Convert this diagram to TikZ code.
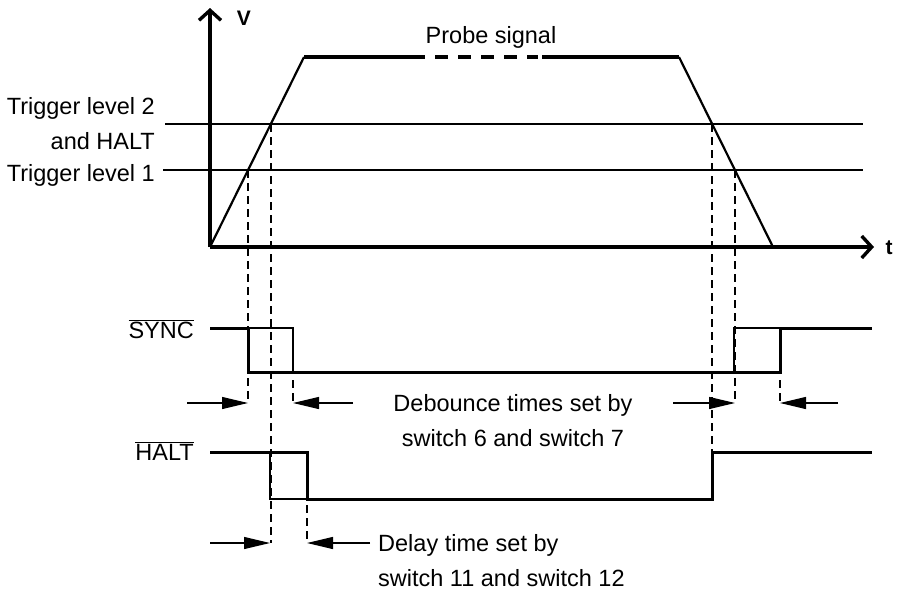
\documentclass[tikz,border=0pt]{standalone}
\usepackage{fontspec}
\setmainfont{Liberation Sans}
\usetikzlibrary{arrows.meta}

\begin{document}
\begin{tikzpicture}[x=1pt,y=-1pt,
	thinline/.style={line width=1.2pt},
	sig/.style={line width=3pt,line join=miter},
	ramp/.style={line width=2.2pt},
	guide/.style={line width=1.2pt,dash pattern=on 8pt off 5pt},
	span/.style={line width=1.2pt,-{Triangle[length=26pt,width=12pt]}},
	axis/.style={line width=3.2pt,-{Straight Barb[length=10pt,width=22pt,line width=3.4pt]}},
	lbl/.style={inner sep=0pt,font=\fontsize{23.5}{35}\selectfont},
	axlbl/.style={inner sep=0pt,font=\fontsize{21}{24}\selectfont\bfseries}]
\useasboundingbox (0,0) rectangle (903,592);
% axes
\coordinate (o) at (210,247);
\draw[axis] (o) -- (210,8);
\draw[axis] (o) -- (874,247);
\node[axlbl] (v) at (244,18) {V};
\node[axlbl] (t) at (889,248) {t};
% trigger levels
\draw[thinline] (165,124) -- (863,124);
\draw[thinline] (163,170) -- (863,170);
\node[lbl,anchor=east,align=right] (lvl2) at (155,124) {Trigger level 2\\and HALT};
\node[lbl,anchor=base east] (lvl1) at (155,181) {Trigger level 1};
% probe signal
\coordinate (risetop) at (304,57);
\coordinate (falltop) at (679,57);
\coordinate (fallend) at (773,247);
\draw[ramp] (o) -- (risetop);
\draw[ramp] (falltop) -- (fallend);
\draw[line width=3.3pt] (risetop) -- (425,57);
\draw[line width=3.3pt,dash pattern=on 13pt off 10pt] (435,57) -- (538,57);
\draw[line width=3.3pt] (542,57) -- (falltop);
\node[lbl,anchor=base] (probe) at (491,43) {Probe signal};
% crossings
\coordinate (up1) at (248,170);
\coordinate (up2) at (271,124);
\coordinate (dn2) at (712,124);
\coordinate (dn1) at (735,170);
% SYNC
\node[lbl,anchor=base east] (sync) at (194,338) {$\overline{\mbox{SYNC}}$};
\draw[sig] (210,328) -- (248,328) -- (248,372) -- (780,372) -- (780,328) -- (872,328);
\draw[thinline] (248,328) -- (293,328) -- (293,372);
\draw[thinline] (734,372) -- (734,328) -- (780,328);
% HALT
\node[lbl,anchor=base east] (halt) at (194,460) {$\overline{\mbox{HALT}}$};
\draw[sig] (210,452) -- (307,452) -- (307,499) -- (712,499) -- (712,452) -- (872,452);
\draw[thinline] (270,452) -- (270,499) -- (307,499);
% guide lines
\draw[guide] (up1) -- (248,403);
\draw[guide] (up2) -- (271,543);
\draw[guide] (293,380) -- (293,403);
\draw[guide] (307,505) -- (307,543);
\draw[guide] (dn2) -- (712,452);
\draw[guide] (dn1) -- (735,403);
\draw[guide] (780,380) -- (780,403);
% debounce and delay times
\draw[span] (187,403) -- (248,403);
\draw[span] (353,403) -- (293,403);
\draw[span] (673,403) -- (735,403);
\draw[span] (838,403) -- (780,403);
\node[lbl,anchor=north,align=center] (debounce) at (513,394) {Debounce times set by\\switch 6 and switch 7};
\draw[span] (210,543) -- (270,543);
\draw[span] (370,543) -- (307,543);
\node[lbl,anchor=north west,align=left] (delay) at (378,534) {Delay time set by\\switch 11 and switch 12};
\end{tikzpicture}
\end{document}
